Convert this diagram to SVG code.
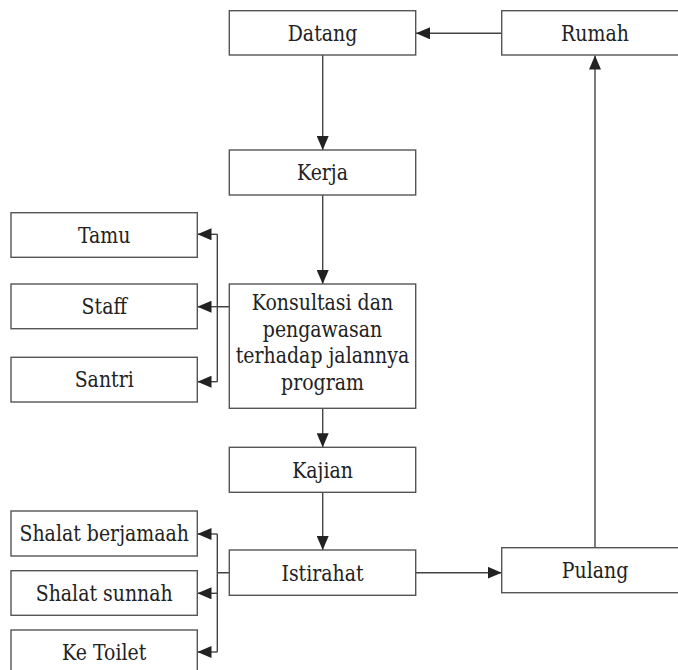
<svg xmlns="http://www.w3.org/2000/svg" width="678" height="670" viewBox="0 0 678 670">
<style>
.box{fill:#fff;stroke:#555;stroke-width:1.4}
.t{font-family:'DejaVu Serif',serif;font-size:22px;fill:#222;text-anchor:middle}
.c{fill:none;stroke:#444;stroke-width:1.4}
</style>
<defs>
<marker id="ah" viewBox="0 0 14 12" refX="14" refY="6" markerWidth="14" markerHeight="12" markerUnits="userSpaceOnUse" orient="auto">
<path d="M0,0 L14,6 L0,12 z" fill="#222"/>
</marker>
</defs>
<rect width="678" height="670" fill="#fff"/>
<g id="connectors">
<path class="c" d="M502,33.3 H416" marker-end="url(#ah)"/>
<path class="c" d="M322.7,55 V150" marker-end="url(#ah)"/>
<path class="c" d="M322.7,195 V284" marker-end="url(#ah)"/>
<path class="c" d="M229.3,306.7 H217.3 M217.3,234.3 V381.7"/>
<path class="c" d="M217.3,234.3 H197.5" marker-end="url(#ah)"/>
<path class="c" d="M217.3,306.7 H197.5" marker-end="url(#ah)"/>
<path class="c" d="M217.3,381.7 H197.5" marker-end="url(#ah)"/>
<path class="c" d="M322.7,408.3 V447.3" marker-end="url(#ah)"/>
<path class="c" d="M322.7,492.3 V550" marker-end="url(#ah)"/>
<path class="c" d="M229.3,572.7 H217.3 M217.3,534 V652"/>
<path class="c" d="M217.3,534 H197.5" marker-end="url(#ah)"/>
<path class="c" d="M217.3,593.3 H197.5" marker-end="url(#ah)"/>
<path class="c" d="M217.3,652 H197.5" marker-end="url(#ah)"/>
<path class="c" d="M415.7,572.7 H501.7" marker-end="url(#ah)"/>
<path class="c" d="M595,547.7 V55.5" marker-end="url(#ah)"/>
</g>
<g id="datang"><rect class="box" x="229.3" y="10.7" width="186.4" height="44.3"/><text class="t" transform="translate(322.5 40.8) scale(0.86 1)">Datang</text></g>
<g id="rumah"><rect class="box" x="501.7" y="10.7" width="190" height="44.3"/><text class="t" transform="translate(595 41) scale(0.86 1)">Rumah</text></g>
<g id="kerja"><rect class="box" x="229.3" y="150" width="186.4" height="45"/><text class="t" transform="translate(322.5 180.3) scale(0.86 1)">Kerja</text></g>
<g id="tamu"><rect class="box" x="11" y="212.7" width="186.3" height="44.6"/><text class="t" transform="translate(104.2 242.5) scale(0.86 1)">Tamu</text></g>
<g id="staff"><rect class="box" x="11" y="284" width="186.3" height="44.7"/><text class="t" transform="translate(104.2 314) scale(0.86 1)">Staff</text></g>
<g id="santri"><rect class="box" x="11" y="357.3" width="186.3" height="44.7"/><text class="t" transform="translate(104.2 387) scale(0.86 1)">Santri</text></g>
<g id="konsultasi"><rect class="box" x="229.3" y="284" width="186.4" height="124.3"/>
<text class="t" transform="translate(322.5 310) scale(0.86 1)">Konsultasi dan</text>
<text class="t" transform="translate(322.5 336.5) scale(0.86 1)">pengawasan</text>
<text class="t" transform="translate(322.5 363) scale(0.86 1)">terhadap jalannya</text>
<text class="t" transform="translate(322.5 389.5) scale(0.86 1)">program</text></g>
<g id="kajian"><rect class="box" x="229.3" y="447.3" width="186.4" height="45"/><text class="t" transform="translate(322.5 477.5) scale(0.86 1)">Kajian</text></g>
<g id="istirahat"><rect class="box" x="229.3" y="550" width="186.4" height="45.3"/><text class="t" transform="translate(322.5 580.5) scale(0.86 1)">Istirahat</text></g>
<g id="pulang"><rect class="box" x="501.7" y="547.7" width="190" height="45"/><text class="t" transform="translate(595 578) scale(0.86 1)">Pulang</text></g>
<g id="shalat-berjamaah"><rect class="box" x="11" y="511" width="186.3" height="45"/><text class="t" transform="translate(104.2 541) scale(0.86 1)">Shalat berjamaah</text></g>
<g id="shalat-sunnah"><rect class="box" x="11" y="570.7" width="186.3" height="44.6"/><text class="t" transform="translate(104.2 600.5) scale(0.86 1)">Shalat sunnah</text></g>
<g id="ke-toilet"><rect class="box" x="11" y="630" width="186.3" height="50"/><text class="t" transform="translate(104.2 659.5) scale(0.86 1)">Ke Toilet</text></g>
</svg>
